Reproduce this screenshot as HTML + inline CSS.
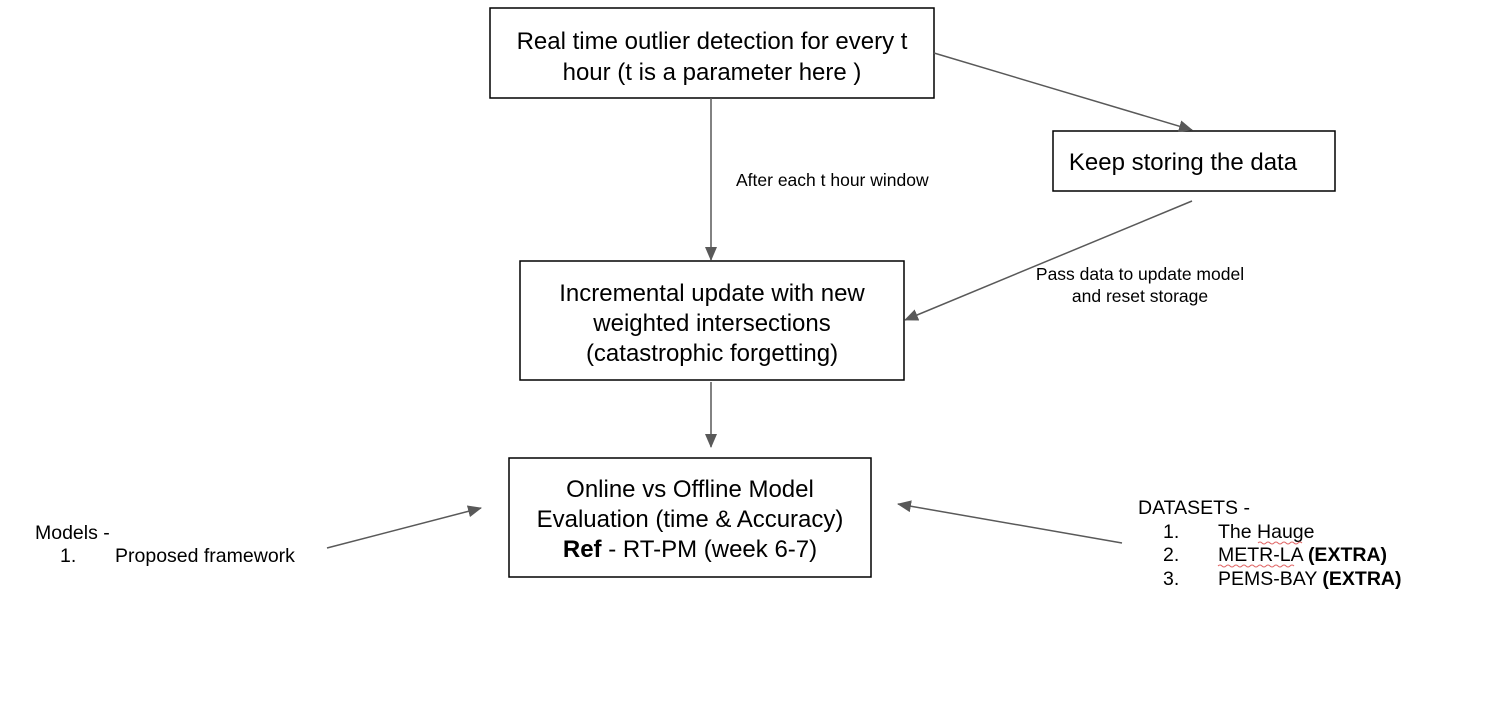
<!DOCTYPE html>
<html><head><meta charset="utf-8"><style>
html,body{margin:0;padding:0;background:#fff;}
svg{display:block;font-family:"Liberation Sans",Arial,sans-serif;}
</style></head><body>
<svg width="1502" height="720" viewBox="0 0 1502 720" xmlns="http://www.w3.org/2000/svg">
<defs>
<marker id="a" markerWidth="14" markerHeight="12" refX="13" refY="6" orient="auto" markerUnits="userSpaceOnUse">
<path d="M0,0 L14,6 L0,12 z" fill="#595959"/>
</marker>
</defs>
<rect width="1502" height="720" fill="#fff"/>
<g stroke="#000" stroke-width="1.5" fill="#fff">
<rect x="490" y="8" width="444" height="90"/>
<rect x="1053" y="131" width="282" height="60"/>
<rect x="520" y="261" width="384" height="119"/>
<rect x="509" y="458" width="362" height="119"/>
</g>
<g stroke="#595959" stroke-width="1.5" fill="none" marker-end="url(#a)">
<line x1="711" y1="98" x2="711" y2="260"/>
<line x1="934" y1="53" x2="1192" y2="130"/>
<line x1="1192" y1="201" x2="905" y2="320"/>
<line x1="711" y1="382" x2="711" y2="447"/>
<line x1="327" y1="548" x2="481" y2="508"/>
<line x1="1122" y1="543" x2="898" y2="504"/>
</g>
<g font-size="24" fill="#000" text-anchor="middle">
<text x="712" y="49">Real time outlier detection for every t</text>
<text x="712" y="80">hour (t is a parameter here )</text>
<text x="1183" y="170">Keep storing the data</text>
<text x="712" y="301">Incremental update with new</text>
<text x="712" y="331">weighted intersections</text>
<text x="712" y="361">(catastrophic forgetting)</text>
<text x="690" y="497">Online vs Offline Model</text>
<text x="690" y="527">Evaluation (time &amp; Accuracy)</text>
<text x="690" y="557"><tspan font-weight="bold">Ref</tspan> - RT-PM (week 6-7)</text>
</g>
<g font-size="17.5" fill="#000">
<text x="736" y="186">After each t hour window</text>
<text x="1140" y="280" text-anchor="middle">Pass data to update model</text>
<text x="1140" y="302" text-anchor="middle">and reset storage</text>
</g>
<g font-size="19.5" fill="#000">
<text x="35" y="539">Models -</text>
<text x="60" y="562">1.</text>
<text x="115" y="562">Proposed framework</text>
<text x="1138" y="514">DATASETS -</text>
<text x="1163" y="538">1.</text>
<text x="1218" y="538">The Hauge</text>
<text x="1163" y="561">2.</text>
<text x="1218" y="561">METR-LA <tspan font-weight="bold">(EXTRA)</tspan></text>
<text x="1163" y="585">3.</text>
<text x="1218" y="585">PEMS-BAY <tspan font-weight="bold">(EXTRA)</tspan></text>
</g>
<g stroke="#e06666" stroke-width="1" fill="none">
<path d="M1258,543 q2,-2 4,0 t4,0 t4,0 t4,0 t4,0 t4,0 t4,0 t4,0 t4,0 t4,0 t4,0"/>
<path d="M1218,566 q2,-2 4,0 t4,0 t4,0 t4,0 t4,0 t4,0 t4,0 t4,0 t4,0 t4,0 t4,0 t4,0 t4,0 t4,0 t4,0 t4,0 t4,0 t4,0 t4,0"/>
</g>
</svg>
</body></html>
